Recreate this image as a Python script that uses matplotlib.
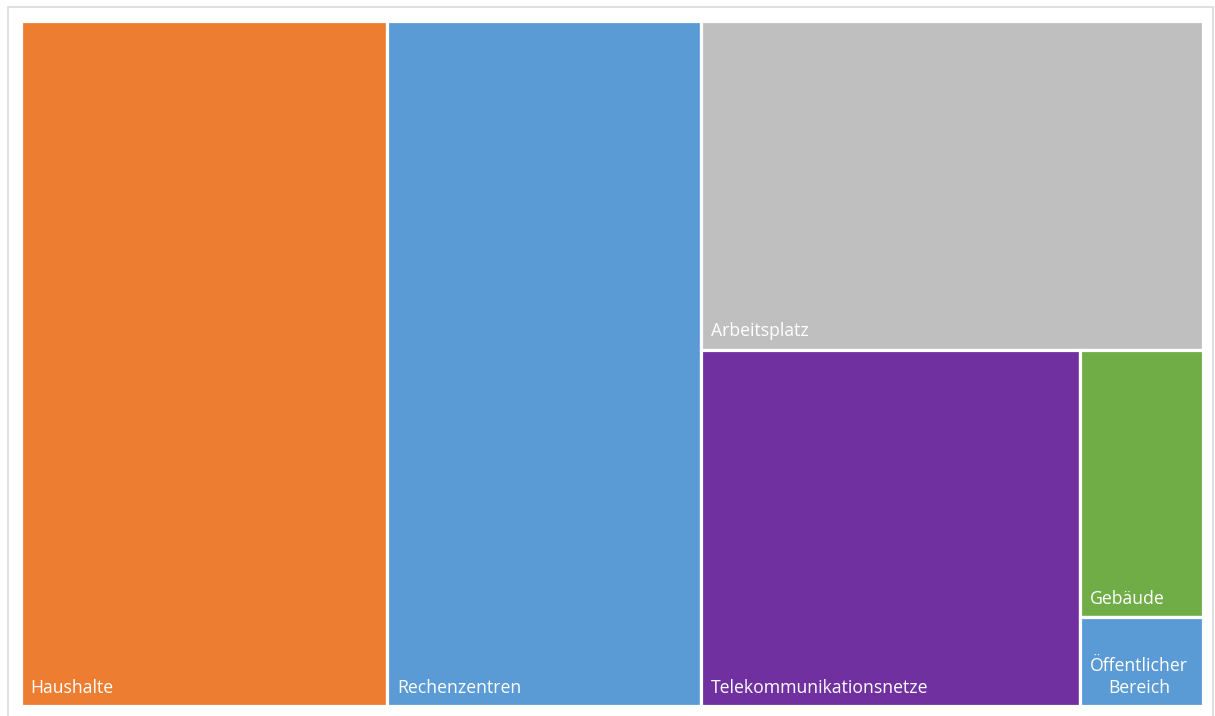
import matplotlib
matplotlib.use("Agg")
import matplotlib.pyplot as plt
from matplotlib.patches import Rectangle

# ---- data (share of total, %) ----
labels = ["Haushalte", "Rechenzentren", "Arbeitsplatz", "Telekommunikationsnetze",
          "Gebäude", "Öffentlicher\nBereich"]
values = [31.0, 26.55, 20.4, 16.7, 4.05, 1.35]
colors = ["#ED7D31", "#5B9BD5", "#BFBFBF", "#7030A0", "#70AD47", "#5B9BD5"]

# layout tree: 'h' = side by side, 'v' = stacked (indices into the data)
layout = ("h", [0, 1, ("v", [2, ("h", [3, ("v", [4, 5])])])])


def total(node):
    if isinstance(node, int):
        return values[node]
    return sum(total(c) for c in node[1])


def place(node, x, y, w, h, out):
    if isinstance(node, int):
        out[node] = (x, y, w, h)
        return
    kind, children = node
    s = total(node)
    pos = 0.0
    for c in children:
        f = total(c) / s
        if kind == "h":
            place(c, x + pos * w, y, w * f, h, out)
        else:
            place(c, x, y + pos * h, w, h * f, out)
        pos += f


W_PX, H_PX = 1215, 716
fig = plt.figure(figsize=(W_PX / 100, H_PX / 100), dpi=100)
fig.patch.set_facecolor("white")

# outer frame
fig.patches.append(Rectangle((8 / W_PX, -0.01), 1205 / W_PX, (709) / H_PX + 0.01,
                             transform=fig.transFigure, fill=False,
                             edgecolor="#D9D9D9", linewidth=1.2))

left, right, top, bottom = 20.5, 1202.8, 20.5, 706.3
ax = fig.add_axes([left / W_PX, 1 - bottom / H_PX, (right - left) / W_PX, (bottom - top) / H_PX])
ax.set_xlim(0, 1)
ax.set_ylim(1, 0)
ax.axis("off")

rects = {}
place(layout, 0, 0, 1, 1, rects)

px_w = right - left
px_h = bottom - top
for i, (x, y, w, h) in rects.items():
    ax.add_patch(Rectangle((x, y), w, h, facecolor=colors[i], edgecolor="white",
                           linewidth=2.3))
    tx = x + (1.5 + 8.5) / px_w
    ty = y + h - (1.5 + 12.0) / px_h
    ax.text(tx, ty, labels[i], color="white", fontsize=12.7, family="Open Sans",
            ha="left", va="baseline", multialignment="center", linespacing=1.25)

fig.savefig("out.png", dpi=100)
